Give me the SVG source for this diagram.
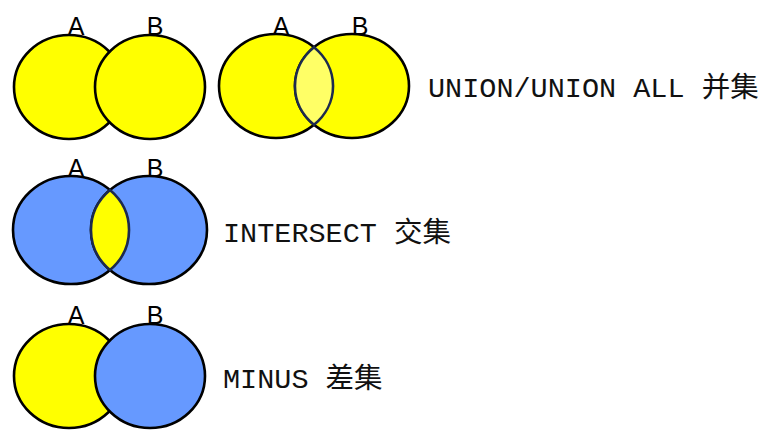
<svg xmlns="http://www.w3.org/2000/svg" width="767" height="433" viewBox="0 0 767 433">
<style>
.c{stroke:#000;stroke-width:2.6}
.y{fill:#ffff00}
.b{fill:#6699ff}
.lens{stroke:#1c2a4e;stroke-width:2.6}
.lbl{font-family:"Liberation Sans",Arial,sans-serif;font-size:25px;fill:#000;text-anchor:middle}
.t{font-family:"Liberation Mono","Noto Sans CJK SC",monospace;font-size:28.5px;fill:#111}
</style>
<rect width="767" height="433" fill="#fff"/>
<g id="union-left">
<ellipse class="c y" cx="69" cy="87" rx="55" ry="52"/>
<ellipse class="c y" cx="150" cy="87" rx="55" ry="52"/>
<text class="lbl" x="76" y="35">A</text>
<text class="lbl" x="155" y="35">B</text>
</g>
<g id="union-right">
<ellipse class="c y" cx="276" cy="86" rx="57" ry="52"/>
<ellipse class="c y" cx="352" cy="86" rx="57" ry="52"/>
<path class="lens" fill="#ffff66" d="M314,47.2 A57,52 0 0,1 314,124.8 A57,52 0 0,1 314,47.2 Z"/>
<text class="lbl" x="281" y="35">A</text>
<text class="lbl" x="360" y="35">B</text>
</g>
<g id="union-text"><text class="t" x="428" y="97">UNION/UNION ALL 并集</text></g>
<g id="intersect">
<ellipse class="c b" cx="71" cy="230" rx="58" ry="54"/>
<ellipse class="c b" cx="149" cy="230" rx="58" ry="54"/>
<path class="lens" fill="#ffff00" d="M110,190 A58,54 0 0,1 110,270 A58,54 0 0,1 110,190 Z"/>
<text class="lbl" x="76" y="177">A</text>
<text class="lbl" x="155" y="177">B</text>
</g>
<g id="intersect-text"><text class="t" x="223" y="242">INTERSECT 交集</text></g>
<g id="minus">
<ellipse class="c y" cx="69" cy="376" rx="55" ry="52"/>
<ellipse class="c b" cx="150" cy="376" rx="55" ry="52"/>
<text class="lbl" x="76" y="324">A</text>
<text class="lbl" x="155" y="324">B</text>
</g>
<g id="minus-text"><text class="t" x="223" y="388">MINUS 差集</text></g>
<g id="connectors"/>
</svg>
